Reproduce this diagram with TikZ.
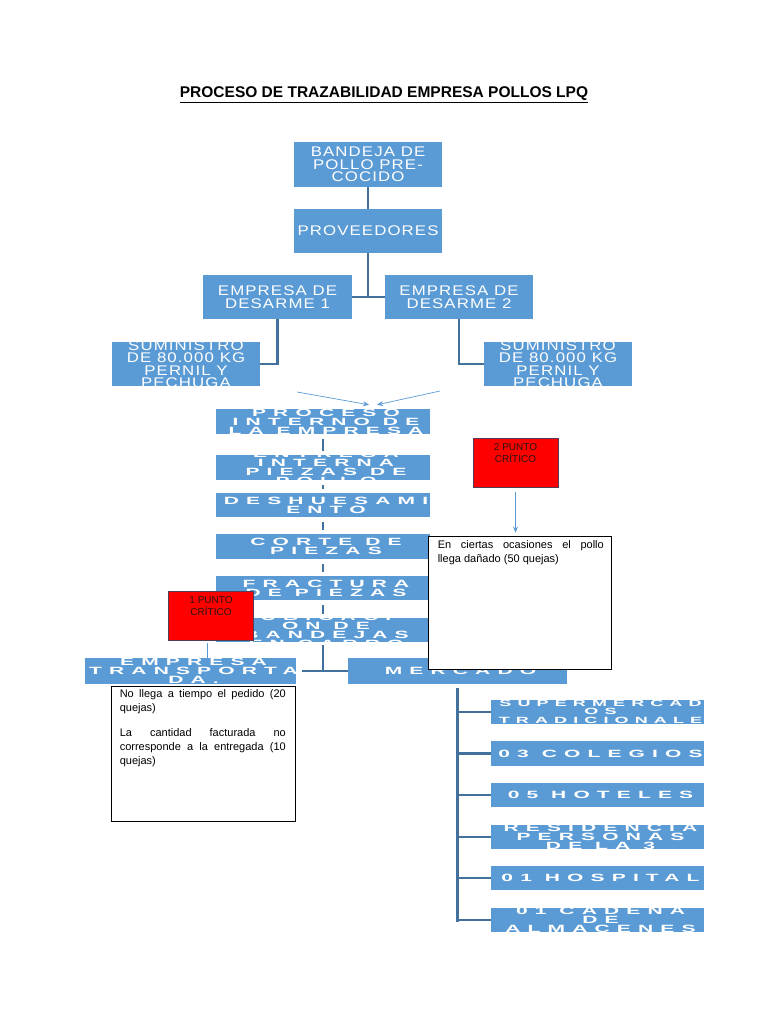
\documentclass[tikz,border=0pt]{standalone}
\usepackage{fontspec}
\setmainfont{Liberation Sans}
\newfontfamily\upf{Liberation Sans}[FakeStretch=1.2,LetterSpace=8]
\newfontfamily\lowf{Liberation Sans}[FakeStretch=2.0,LetterSpace=68]
\usetikzlibrary{arrows.meta}
\definecolor{boxblue}{RGB}{91,155,213}
\definecolor{linkblue}{RGB}{65,113,156}
\definecolor{thinblue}{RGB}{91,155,213}
\definecolor{critred}{RGB}{255,0,0}
\definecolor{critedge}{RGB}{85,60,85}
\definecolor{crittext}{RGB}{40,20,20}
\tikzset{
  bx/.style={fill=boxblue, draw=none, inner sep=0pt},
  up text/.style={text=white, font=\upf\fontsize{14}{12.5}\selectfont, align=center, inner sep=0pt},
  low text/.style={text=white, font=\lowf\bfseries\fontsize{10.5}{9}\selectfont, align=center, inner sep=0pt, xshift=3pt},
  mkt text/.style={text=white, font=\lowf\bfseries\fontsize{9}{8.4}\selectfont, align=center, inner sep=0pt, xshift=3pt},
  link/.style={draw=linkblue, line width=2.6pt},
  thinline/.style={draw=thinblue, line width=0.7pt},
  thinarrow/.style={thinline, -{Stealth[length=6pt,width=5pt]}},
  crit/.style={fill=critred, draw=critedge, line width=0.8pt, minimum width=85pt, minimum height=49pt, inner sep=0pt},
  crit text/.style={text=crittext, font=\fontsize{10}{12}\selectfont, align=center, inner sep=0pt},
  note/.style={fill=white, draw=black, line width=0.8pt, inner sep=0pt},
  note text/.style={text=black, font=\fontsize{11}{14}\selectfont, align=justify, text width=166pt, inner sep=0pt},
}
\newcommand\bb[6]{\node[bx, minimum width=#4pt, minimum height=#5pt,
  path picture={\node[#1] at (path picture bounding box.center) {#6};}] (#2) at (#3) {};}
\begin{document}
\begin{tikzpicture}[x=1pt,y=-1pt]
\fill[white] (0,0) rectangle (768,1024);
\useasboundingbox (0,0) rectangle (768,1024);

\node[font=\bfseries\fontsize{15.5}{17}\selectfont, inner sep=0pt] (title) at (384,95) {\underline{PROCESO DE TRAZABILIDAD EMPRESA POLLOS LPQ}};

% upper boxes
\bb{up text}{band}{368,164.5}{148}{45}{BANDEJA DE\\POLLO PRE-\\COCIDO}
\bb{up text}{prov}{368,231}{148}{44}{PROVEEDORES}
\bb{up text}{des1}{277.5,297}{149}{44}{EMPRESA DE\\DESARME 1}
\bb{up text}{des2}{459,297}{148}{44}{EMPRESA DE\\DESARME 2}
\bb{up text}{sum1}{186,364}{148}{44}{SUMINISTRO\\DE 80.000 KG\\PERNIL Y\\PECHUGA}
\bb{up text}{sum2}{558,364}{148}{44}{SUMINISTRO\\DE 80.000 KG\\PERNIL Y\\PECHUGA}

% process chain
\bb{low text}{proc}{323,421.5}{214}{25}{PROCESO\\INTERNO DE\\LA EMPRESA}
\bb{low text}{ent}{323,467.5}{214}{25}{ENTREGA\\INTERNA\\PIEZAS DE\\POLLO}
\bb{low text}{desh}{323,505}{214}{24}{DESHUESAMI\\ENTO}
\bb{low text}{corte}{323,546.5}{214}{25}{CORTE DE\\PIEZAS}
\bb{low text}{fract}{323,588}{214}{24}{FRACTURA\\DE PIEZAS}
\bb{low text}{bandj}{323,630}{214}{24}{UBICACI\\ON DE\\BANDEJAS\\EN CARRO}
\bb{low text}{transp}{190.5,671}{211}{26}{EMPRESA\\TRANSPORTA\\DA.}
\bb{low text}{merc}{457.5,671}{219}{26}{MERCADO}

% market
\bb{{mkt text, yshift=-4pt}}{sup}{597.5,712}{213}{24}{SUPERMERCAD\\OS\\TRADICIONALE\\S}
\bb{low text}{col}{597.5,753.5}{213}{25}{03 COLEGIOS}
\bb{low text}{hot}{597.5,795}{213}{24}{05 HOTELES}
\bb{low text}{res}{597.5,837}{213}{24}{RESIDENCIA\\PERSONAS\\DE LA 3}
\bb{low text}{hosp}{597.5,878}{213}{24}{01 HOSPITAL}
\bb{low text}{cad}{597.5,920}{213}{24}{01 CADENA\\DE\\ALMACENES}

% links top
\draw[link] (band.south) -- (prov.north);
\draw[link] (prov.south) -- (prov.south |- des1.east);
\draw[link] (des1.east) -- (des2.west);
\draw[link] (des1.south) |- (sum1.east);
\draw[link] (des2.south) |- (sum2.west);

% chain stubs
\draw[link, shorten <=5pt, shorten >=4pt] (proc.south) -- (ent.north);
\draw[link, shorten <=5pt, shorten >=4pt] (ent.south) -- (desh.north);
\draw[link, shorten <=5pt, shorten >=4pt] (desh.south) -- (corte.north);
\draw[link, shorten <=5pt, shorten >=4pt] (corte.south) -- (fract.north);
\draw[link, shorten <=5pt, shorten >=4pt] (fract.south) -- (bandj.north);
\coordinate (split) at (bandj.south |- transp.east);
\draw[link, shorten <=3pt] (bandj.south) -- (split);
\draw[link] ([xshift=6pt]transp.east) -- (merc.west);

% market tree
\coordinate (mtop) at ([yshift=-4pt]merc.south);
\coordinate (mbot) at ([yshift=-2pt]mtop |- cad.west);
\draw[link] (mtop) -- (mbot);
\foreach \b in {sup,col,hot,res,hosp,cad}
  \draw[link] (mtop |- \b.west) -- (\b.west);

% thin arrows into process
\coordinate (a1) at (297,392);
\coordinate (a2) at (440,391);
\draw[thinarrow] (a1) -- ([shift={(46,-4)}]proc.north);
\draw[thinarrow] (a2) -- ([shift={(54,-4)}]proc.north);

% critical points and notes
\node[note, minimum width=183pt, minimum height=133pt] (n2) at (519.5,602.5) {};
\node[note text, anchor=north west] (n2t) at ([shift={(10,5)}]n2.north west)
  {En ciertas ocasiones el pollo\linebreak llega dañado (50 quejas)};
\node[crit] (c2) at (515.5,462.5) {};
\node[crit text, anchor=north] (c2t) at ([yshift=-6pt]c2.north) {2 PUNTO\\CRÍTICO};
\draw[thinarrow, shorten <=5pt, shorten >=3pt] (c2.south) -- (c2.south |- n2.north);

\node[crit] (c1) at (211,615.5) {};
\node[crit text, anchor=north] (c1t) at ([yshift=-6pt]c1.north) {1 PUNTO\\CRÍTICO};
\draw[thinline, shorten <=3pt] ([xshift=-4pt]c1.south) -- ([xshift=-4pt]c1.south |- transp.north);

\node[note, minimum width=184pt, minimum height=135pt] (n1) at (203,753.5) {};
\node[note text, anchor=north west] (n1t) at ([shift={(9,4)}]n1.north west)
  {No llega a tiempo el pedido (20\linebreak quejas)\par\vspace{11pt}
   La cantidad facturada no\linebreak corresponde a la entregada (10\linebreak quejas)};
\end{tikzpicture}
\end{document}
